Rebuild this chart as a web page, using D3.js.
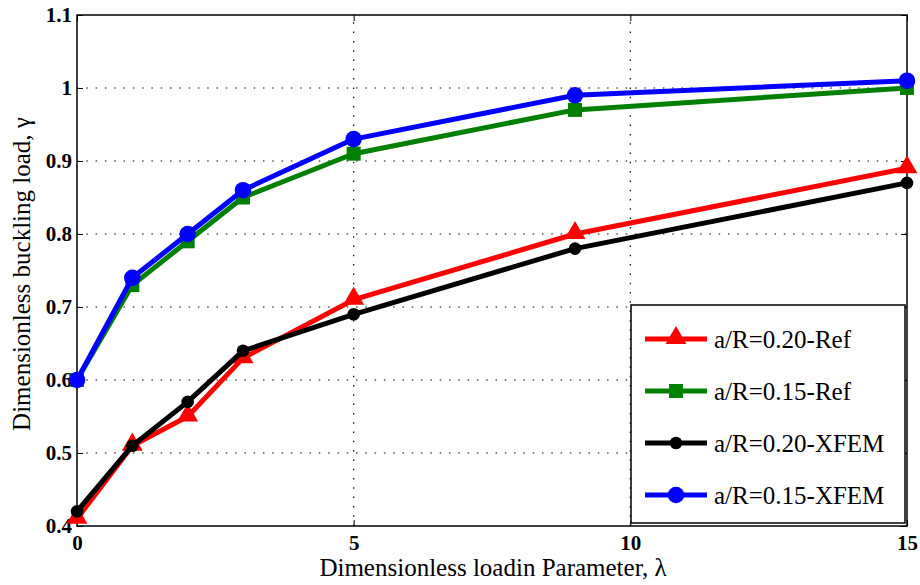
<!DOCTYPE html>
<html>
<head>
<meta charset="utf-8">
<script src="https://cdn.jsdelivr.net/npm/d3@7"></script>
<style>
  html, body { margin: 0; padding: 0; background: #fff; }
  svg { display: block; }
</style>
</head>
<body>
<svg id="chart" width="920" height="585"></svg>
<script>
// Load parameter values (x axis)
const lambdaValues = [0, 1, 2, 3, 5, 9, 15];

// Dimensionless buckling load per case
const ref020  = [0.41, 0.51, 0.55, 0.63, 0.71, 0.80, 0.89];
const ref015  = [0.60, 0.73, 0.79, 0.85, 0.91, 0.97, 1.00];
const xfem020 = [0.42, 0.51, 0.57, 0.64, 0.69, 0.78, 0.87];
const xfem015 = [0.60, 0.74, 0.80, 0.86, 0.93, 0.99, 1.01];

const seriesNames = ["a/R=0.20-Ref", "a/R=0.15-Ref", "a/R=0.20-XFEM", "a/R=0.15-XFEM"];

const xTicks = [0, 5, 10, 15];
const yTicks = [0.4, 0.5, 0.6, 0.7, 0.8, 0.9, 1.0, 1.1];

const series = [
  { name: seriesNames[0], values: ref020,  color: "#ff0000", marker: "triangle" },
  { name: seriesNames[1], values: ref015,  color: "#008000", marker: "square" },
  { name: seriesNames[2], values: xfem020, color: "#000000", marker: "smallcircle" },
  { name: seriesNames[3], values: xfem015, color: "#0000ff", marker: "circle" }
];

const SERIF = "'Liberation Serif', 'DejaVu Serif', 'Times New Roman', Times, serif";

const svg = d3.select("#chart").style("font-family", SERIF);
const margin = { left: 77, right: 13, top: 15, bottom: 59 };
const W = 920, H = 585;

const x = d3.scaleLinear().domain([0, 15]).range([margin.left, W - margin.right]);
const y = d3.scaleLinear().domain([0.4, 1.1]).range([H - margin.bottom, margin.top]);

// Dotted grid
const grid = svg.append("g");
grid.selectAll("line.gy").data(yTicks.filter(d => d > 0.4 && d < 1.1)).enter().append("line")
  .attr("x1", x.range()[0]).attr("x2", x.range()[1])
  .attr("y1", d => y(d)).attr("y2", d => y(d))
  .attr("stroke", "#000").attr("stroke-width", 1.2).attr("stroke-dasharray", "1.5,7.8");
grid.selectAll("line.gx").data(xTicks.filter(d => d > 0 && d < 15)).enter().append("line")
  .attr("y1", y.range()[0]).attr("y2", y.range()[1])
  .attr("x1", d => x(d)).attr("x2", d => x(d))
  .attr("stroke", "#000").attr("stroke-width", 1.2).attr("stroke-dasharray", "1.5,7.8");

// Axes with inward ticks
const xAxis = d3.axisBottom(x).tickValues(xTicks).tickFormat(d3.format("d")).tickSizeInner(-6).tickSizeOuter(0).tickPadding(9);
const yAxis = d3.axisLeft(y).tickValues(yTicks).tickFormat(d => d === 1 ? "1" : d3.format(".1f")(d)).tickSizeInner(-6).tickSizeOuter(0).tickPadding(5);

const gx = svg.append("g").attr("transform", `translate(0,${y.range()[0]})`).call(xAxis);
gx.select(".domain").remove();
gx.selectAll("line").attr("stroke", "#000");
gx.selectAll("text").style("font-family", SERIF).attr("font-size", 21).attr("font-weight", "bold").attr("dy", "0.71em");

const gy = svg.append("g").attr("transform", `translate(${x.range()[0]},0)`).call(yAxis);
gy.select(".domain").remove();
gy.selectAll("line").attr("stroke", "#000");
gy.selectAll("text").style("font-family", SERIF).attr("font-size", 21).attr("font-weight", "bold");

// Mirror ticks on top/right edges
const gx2 = svg.append("g").attr("transform", `translate(0,${y.range()[1]})`)
  .call(d3.axisTop(x).tickValues(xTicks).tickSizeInner(-6).tickSizeOuter(0).tickFormat(""));
gx2.select(".domain").remove();
const gy2 = svg.append("g").attr("transform", `translate(${x.range()[1]},0)`)
  .call(d3.axisRight(y).tickValues(yTicks).tickSizeInner(-6).tickSizeOuter(0).tickFormat(""));
gy2.select(".domain").remove();

// Frame
svg.append("rect")
  .attr("x", x.range()[0]).attr("y", y.range()[1])
  .attr("width", x.range()[1] - x.range()[0]).attr("height", y.range()[0] - y.range()[1])
  .attr("fill", "none").attr("stroke", "#000").attr("stroke-width", 1.5);

// Markers
function drawMarker(g, type, color) {
  if (type === "triangle") {
    g.append("path").attr("d", d3.symbol(d3.symbolTriangle, 190)()).attr("fill", color).attr("transform", "translate(0,-1)");
  } else if (type === "square") {
    g.append("rect").attr("x", -7).attr("y", -7).attr("width", 14).attr("height", 14).attr("fill", color);
  } else if (type === "circle") {
    g.append("circle").attr("r", 8.3).attr("fill", color);
  } else {
    g.append("circle").attr("r", 6.3).attr("fill", color);
  }
}

const line = d3.line().x(d => x(d[0])).y(d => y(d[1]));
const plot = svg.append("g");
series.forEach(s => {
  const pts = lambdaValues.map((l, i) => [l, s.values[i]]);
  const g = plot.append("g");
  g.append("path").datum(pts).attr("d", line)
    .attr("fill", "none").attr("stroke", s.color).attr("stroke-width", 5).attr("stroke-linejoin", "round");
  pts.forEach(p => {
    const m = g.append("g").attr("transform", `translate(${x(p[0])},${y(p[1])})`);
    drawMarker(m, s.marker, s.color);
  });
});

// Legend
const lg = svg.append("g");
lg.append("rect").attr("x", 631).attr("y", 305).attr("width", 274).attr("height", 218)
  .attr("fill", "#fff").attr("stroke", "#000").attr("stroke-width", 1.5);
series.forEach((s, i) => {
  const cy = 339 + i * 52;
  lg.append("line").attr("x1", 645).attr("x2", 707).attr("y1", cy).attr("y2", cy)
    .attr("stroke", s.color).attr("stroke-width", 5);
  const m = lg.append("g").attr("transform", `translate(676,${cy})`);
  drawMarker(m, s.marker, s.color);
  lg.append("text").style("font-family", SERIF).attr("x", 714).attr("y", cy).attr("dy", "0.35em")
    .attr("font-size", 25).text(s.name);
});

// Axis titles
svg.append("text").style("font-family", SERIF).attr("x", 493).attr("y", 576).attr("text-anchor", "middle")
  .attr("font-size", 25).text("Dimensionless loadin Parameter, λ");
svg.append("text").style("font-family", SERIF).attr("transform", "translate(30,274) rotate(-90)").attr("text-anchor", "middle")
  .attr("font-size", 25).text("Dimensionless buckling load, γ");
</script>
</body>
</html>
